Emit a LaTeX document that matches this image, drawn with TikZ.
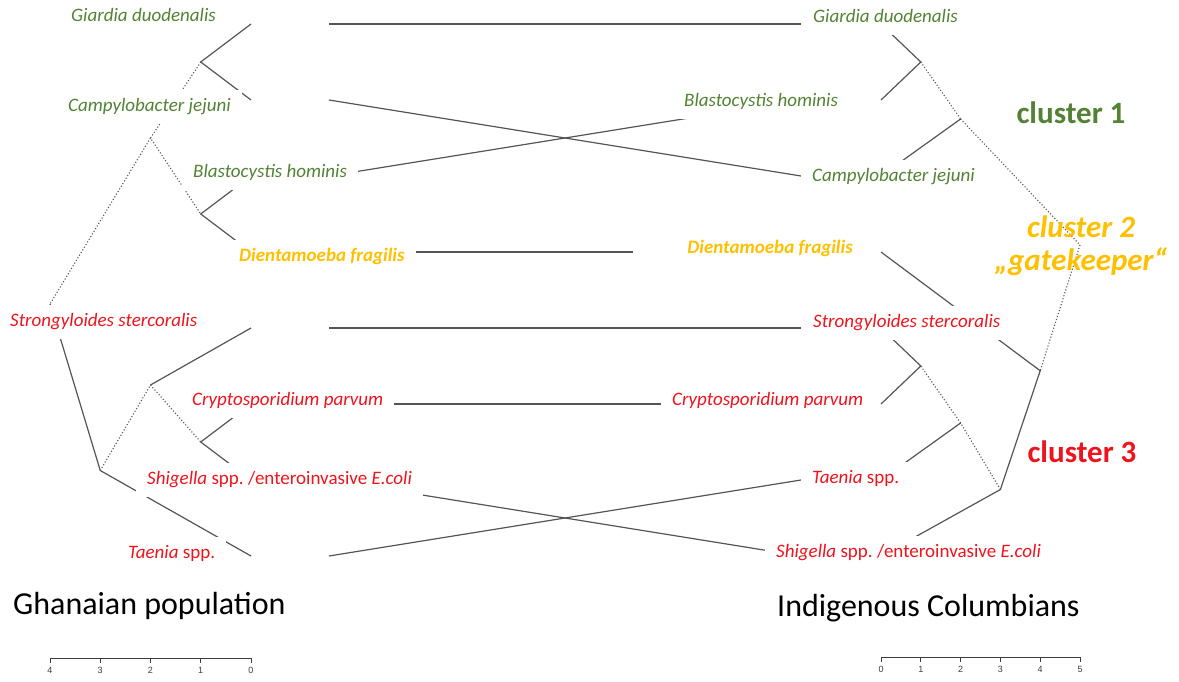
\documentclass[tikz,border=0pt]{standalone}
\usepackage{fontspec}
\setmainfont{Carlito}
\newfontfamily\axisfont{Liberation Sans}
\usetikzlibrary{positioning}
\definecolor{cGreen}{RGB}{84,130,53}
\definecolor{cGold}{RGB}{255,192,0}
\definecolor{cRed}{RGB}{238,20,30}
\definecolor{cLine}{RGB}{85,85,85}
\definecolor{cAxis}{RGB}{60,60,60}
\frenchspacing

\begin{document}
\begin{tikzpicture}[x=1pt,y=-1pt,
    branch/.style={draw=cLine, line width=1.2pt},
    dotbranch/.style={draw=cLine, line width=1.1pt, dash pattern=on 1.1pt off 2pt},
    taxon/.style={font=\fontsize{19}{22}\selectfont\itshape, fill=white, anchor=west,
      inner xsep=11pt, inner ysep=7.5pt, text height=14pt, text depth=5pt},
    cluster/.style={font=\fontsize{31}{36}\selectfont\bfseries, inner sep=0pt},
    poptitle/.style={font=\fontsize{32}{38}\selectfont, anchor=west, inner sep=0pt},
    ticklab/.style={font=\axisfont\fontsize{9}{10}\selectfont, text=cAxis, inner sep=1pt}]
  \useasboundingbox (0,0) rectangle (1179,682);

  % leaves and connector ends
  \foreach \n/\y in {gd/24, cj/100, bh/176, df/252, ss/328, cp/404, sh/480, ts/556} {
    \coordinate (\n-l) at (251,\y);
    \coordinate (\n-lc) at (329,\y);
  }
  \foreach \n/\y in {gd/24, bh/100, cj/176, df/252, ss/328, cp/404, ts/480, sh/556} {
    \coordinate (\n-r) at (881,\y);
    \coordinate (\n-rc) at (801,\y);
  }

  % left dendrogram (Ghana)
  \coordinate (lA) at (200.75,62);
  \coordinate (lC) at (200.75,214);
  \coordinate (lB) at (150.5,138);
  \coordinate (lG) at (200.75,442);
  \coordinate (lF) at (150.5,385);
  \coordinate (lE) at (100.25,470.5);
  \coordinate (lR) at (50,304);
  \draw[branch] (gd-l) -- (lA) -- (cj-l);
  \draw[branch] (bh-l) -- (lC) -- (df-l);
  \draw[dotbranch] (lA) -- (lB) -- (lC);
  \draw[dotbranch] (lB) -- (lR);
  \draw[branch] (lR) -- (lE) -- (ts-l);
  \draw[dotbranch] (lE) -- (lF) -- (lG);
  \draw[branch] (lF) -- (ss-l);
  \draw[branch] (cp-l) -- (lG) -- (sh-l);

  % right dendrogram (Columbia)
  \coordinate (ra) at (920.8,62);
  \coordinate (rb) at (960.6,119);
  \coordinate (rg) at (920.8,366);
  \coordinate (rf) at (960.6,423);
  \coordinate (re) at (1000.4,489.5);
  \coordinate (rd) at (1040.2,370.75);
  \coordinate (rR) at (1080,245);
  \draw[branch] (gd-r) -- (ra) -- (bh-r);
  \draw[dotbranch] (ra) -- (rb);
  \draw[branch] (rb) -- (cj-r);
  \draw[dotbranch] (rb) -- (rR) -- (rd);
  \draw[branch] (df-r) -- (rd) -- (re) -- (sh-r);
  \draw[dotbranch] (re) -- (rf) -- (rg);
  \draw[branch] (rf) -- (ts-r);
  \draw[branch] (ss-r) -- (rg) -- (cp-r);

  % tangle connectors
  \foreach \n in {gd, cj, bh, df, ss, cp, sh, ts}
    \draw[branch] (\n-lc) -- (\n-rc);

  % taxon labels
  \node[taxon, text=cGreen] (gd-lt) at (60,17) {Giardia duodenalis};
  \node[taxon, text=cGreen] (cj-lt) at (57,107) {Campylobacter jejuni};
  \node[taxon, text=cGreen] (bh-lt) at (182,173) {Blastocystis hominis};
  \node[taxon, text=cGold, font=\fontsize{19}{22}\selectfont\bfseries\itshape] (df-lt) at (228,257) {Dientamoeba fragilis};
  \node[taxon, text=cRed] (ss-lt) at (-1,322) {Strongyloides stercoralis};
  \node[taxon, text=cRed] (cp-lt) at (181,401) {Cryptosporidium parvum};
  \node[taxon, text=cRed] (sh-lt) at (136,480) {Shigella \textup{spp. /enteroinvasive} E.coli};
  \node[taxon, text=cRed] (ts-lt) at (117,554) {Taenia \textup{spp.}};

  \node[taxon, text=cGreen] (gd-rt) at (802,18) {Giardia duodenalis};
  \node[taxon, text=cGreen] (bh-rt) at (673,102) {Blastocystis hominis};
  \node[taxon, text=cGreen] (cj-rt) at (801,177) {Campylobacter jejuni};
  \node[taxon, text=cGold, font=\fontsize{19}{22}\selectfont\bfseries\itshape,
    anchor=east] (df-rt) at (864,249) {\hspace*{43pt}Dientamoeba fragilis};
  \node[taxon, text=cRed] (ss-rt) at (802,323) {Strongyloides stercoralis};
  \node[taxon, text=cRed] (cp-rt) at (661,401) {Cryptosporidium parvum};
  \node[taxon, text=cRed] (ts-rt) at (801,479) {Taenia \textup{spp.}};
  \node[taxon, text=cRed] (sh-rt) at (765,553) {Shigella \textup{spp. /enteroinvasive} E.coli};

  % clusters
  \node[cluster, text=cGreen] (cl1) at (1071,113) {cluster 1};
  \node[cluster, text=cGold, font=\fontsize{31}{36}\selectfont\bfseries\itshape] (cl2) at (1081,227) {cluster 2};
  \node[cluster, text=cGold, font=\fontsize{31}{36}\selectfont\bfseries\itshape] (gk) at (1081,262) {„gatekeeper“};
  \node[cluster, text=cRed] (cl3) at (1082,452) {cluster 3};

  % titles
  \node[poptitle] (ghana) at (13,606) {Ghanaian population};
  \node[poptitle] (colum) at (777,608) {Indigenous Columbians};

  % height scales
  \draw[cAxis, line width=0.8pt] (50,658) -- (251,658);
  \foreach \v in {0,...,4}
    \draw[cAxis, line width=0.8pt] (251-50.25*\v,658) -- ++(0,5)
      node[ticklab, below=3pt] (axl\v) {\v};
  \draw[cAxis, line width=0.8pt] (881,657) -- (1080,657);
  \foreach \v in {0,...,5}
    \draw[cAxis, line width=0.8pt] (881+39.8*\v,657) -- ++(0,5)
      node[ticklab, below=3pt] (axr\v) {\v};
\end{tikzpicture}
\end{document}
